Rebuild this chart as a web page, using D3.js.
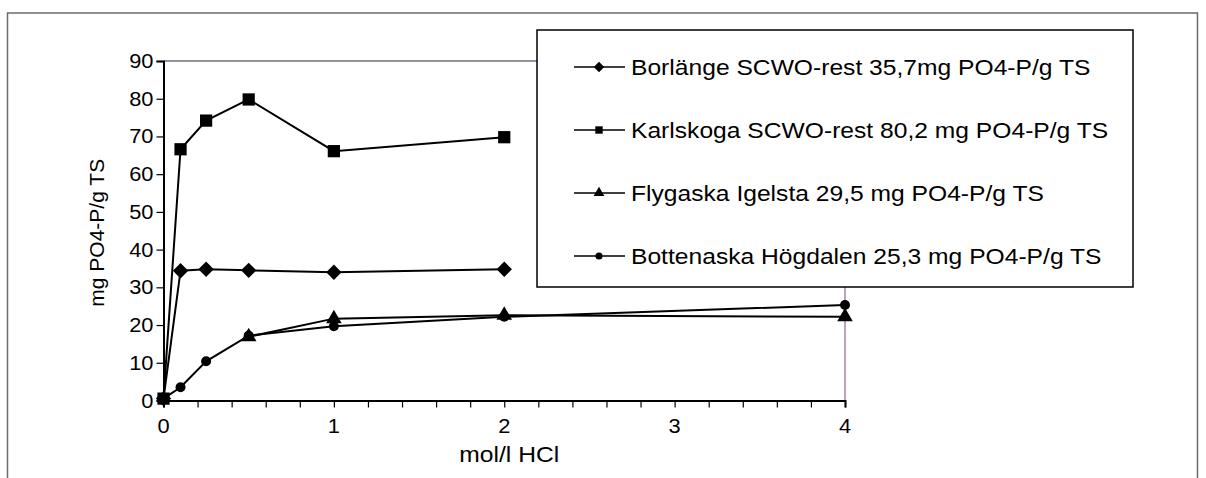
<!DOCTYPE html>
<html>
<head>
<meta charset="utf-8">
<script src="https://cdn.jsdelivr.net/npm/d3@7"></script>
<style>
  body { margin: 0; background: #fff; }
  svg text { font-family: "Liberation Sans", Arial, sans-serif; fill: #000; }
</style>
</head>
<body>
<svg id="chart" width="1206" height="478"></svg>
<script>
// Phosphate (PO4-P) leached per g dry solids at increasing HCl strength
const xTickValues = [0, 1, 2, 3, 4];
const xMinorTicks = d3.range(0, 4.0001, 0.2);
const yTickValues = [0, 10, 20, 30, 40, 50, 60, 70, 80, 90];

const borlangeX = [0, 0.1, 0.25, 0.5, 1, 2];
const borlangeY = [0.5, 34.4, 34.8, 34.5, 34.0, 34.8];

const karlskogaX = [0, 0.1, 0.25, 0.5, 1, 2];
const karlskogaY = [0.5, 66.6, 74.2, 79.8, 66.1, 69.8];

const flygaskaX = [0.5, 1, 2, 4];
const flygaskaY = [16.9, 21.7, 22.6, 22.2];

const bottenaskaX = [0, 0.1, 0.25, 0.5, 1, 2, 4];
const bottenaskaY = [0.5, 3.5, 10.4, 17.2, 19.7, 22.2, 25.3];

const seriesNames = [
  "Borlänge SCWO-rest 35,7mg PO4-P/g TS",
  "Karlskoga SCWO-rest 80,2 mg PO4-P/g TS",
  "Flygaska Igelsta 29,5 mg PO4-P/g TS",
  "Bottenaska Högdalen 25,3 mg PO4-P/g TS"
];
const seriesSymbols = [d3.symbolDiamond2, d3.symbolSquare, d3.symbolTriangle, d3.symbolCircle];

const series = [
  { name: seriesNames[0], symbol: seriesSymbols[0], pts: borlangeX.map((x, i) => [x, borlangeY[i]]) },
  { name: seriesNames[1], symbol: seriesSymbols[1], pts: karlskogaX.map((x, i) => [x, karlskogaY[i]]) },
  { name: seriesNames[2], symbol: seriesSymbols[2], pts: flygaskaX.map((x, i) => [x, flygaskaY[i]]) },
  { name: seriesNames[3], symbol: seriesSymbols[3], pts: bottenaskaX.map((x, i) => [x, bottenaskaY[i]]) }
];

const svg = d3.select("#chart");
const plot = { left: 163.5, right: 845, top: 61, bottom: 400.5 };
const stretch = 1.12; // horizontal text widening used throughout the chart

const x = d3.scaleLinear().domain([0, 4]).range([plot.left, plot.right]);
const y = d3.scaleLinear().domain([0, 90]).range([plot.bottom, plot.top]);

// draw a horizontally widened text at (tx, ty)
function wideText(parent, tx, ty, str, size, anchor) {
  return parent.append("text")
    .attr("transform", `translate(${tx},${ty}) scale(${stretch},1)`)
    .attr("text-anchor", anchor || "start")
    .attr("font-size", size)
    .text(str);
}

// outer chart frame
svg.append("rect")
  .attr("x", 7.5).attr("y", 13)
  .attr("width", 1190).attr("height", 480)
  .attr("fill", "none").attr("stroke", "#6b6b6b").attr("stroke-width", 1.5);

// plot area top and right edges
svg.append("line")
  .attr("x1", plot.left).attr("x2", plot.right)
  .attr("y1", plot.top).attr("y2", plot.top)
  .attr("stroke", "#9a90a4").attr("stroke-width", 2);
svg.append("line")
  .attr("x1", plot.right).attr("x2", plot.right)
  .attr("y1", plot.top).attr("y2", plot.bottom)
  .attr("stroke", "#a880aa").attr("stroke-width", 1.5);

// x axis: minor ticks every 0.2, labels on whole numbers
const xAxis = svg.append("g").attr("transform", `translate(0,${plot.bottom})`)
  .call(d3.axisBottom(x).tickValues(xMinorTicks).tickSize(7).tickFormat(""));
xAxis.select(".domain").attr("stroke", "#000").attr("stroke-width", 2);
xAxis.selectAll(".tick line").attr("stroke", "#000").attr("stroke-width", 1.2);
const xLabels = svg.append("g");
xTickValues.forEach(v => wideText(xLabels, x(v), plot.bottom + 32, v, 19.5, "middle"));

// y axis
const yAxis = svg.append("g").attr("transform", `translate(${plot.left},0)`)
  .call(d3.axisLeft(y).tickValues(yTickValues).tickSize(7).tickFormat(""));
yAxis.select(".domain").attr("stroke", "#000").attr("stroke-width", 2);
yAxis.selectAll(".tick line").attr("stroke", "#000").attr("stroke-width", 1.2);
const yLabels = svg.append("g");
yTickValues.forEach(v => wideText(yLabels, plot.left - 10, y(v) + 7, v, 19.5, "end"));

// axis titles
wideText(svg, (plot.left + plot.right) / 2 + 5, 462, "mol/l HCl", 22, "middle");
svg.append("text")
  .attr("transform", `translate(104,${(plot.top + plot.bottom) / 2 + 2}) rotate(-90)`)
  .attr("text-anchor", "middle").attr("font-size", 21)
  .text("mg PO4-P/g TS");

// series lines and markers
const line = d3.line().x(d => x(d[0])).y(d => y(d[1]));
const markerSize = new Map([
  [d3.symbolDiamond2, 150], [d3.symbolSquare, 150], [d3.symbolTriangle, 105], [d3.symbolCircle, 78]
]);

series.forEach(s => {
  const g = svg.append("g");
  g.append("path").attr("d", line(s.pts))
    .attr("fill", "none").attr("stroke", "#000").attr("stroke-width", 2);
  g.selectAll("path.m").data(s.pts).join("path").attr("class", "m")
    .attr("transform", d => `translate(${x(d[0])},${y(d[1])})`)
    .attr("d", d3.symbol().type(s.symbol).size(markerSize.get(s.symbol)))
    .attr("fill", "#000");
});

// legend
const legend = svg.append("g");
legend.append("rect")
  .attr("x", 537).attr("y", 30).attr("width", 596).attr("height", 257)
  .attr("fill", "#fff").attr("stroke", "#000").attr("stroke-width", 1.5);
const legendSize = new Map([
  [d3.symbolDiamond2, 70], [d3.symbolSquare, 55], [d3.symbolTriangle, 50], [d3.symbolCircle, 40]
]);
series.forEach((s, i) => {
  const cy = 67 + i * 63;
  legend.append("line").attr("x1", 574).attr("x2", 625)
    .attr("y1", cy).attr("y2", cy).attr("stroke", "#000").attr("stroke-width", 1.5);
  legend.append("path").attr("transform", `translate(599,${cy})`)
    .attr("d", d3.symbol().type(s.symbol).size(legendSize.get(s.symbol))).attr("fill", "#000");
  wideText(legend, 631, cy + 8, s.name, 22, "start");
});
</script>
</body>
</html>
